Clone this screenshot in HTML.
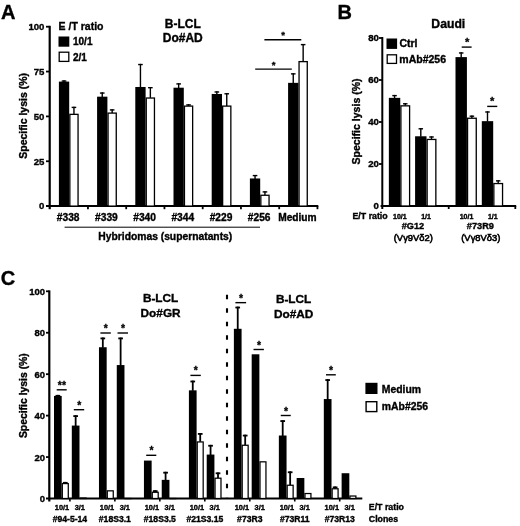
<!DOCTYPE html>
<html><head><meta charset="utf-8"><title>Figure</title>
<style>
html,body{margin:0;padding:0;background:#fff;}
svg{display:block;font-family:'Liberation Sans', Arial, Helvetica, sans-serif;}
text{fill:#000;stroke:#000;stroke-width:.36px;}
</style></head><body>
<svg width="520" height="526" viewBox="0 0 520 526" style="font-family:'Liberation Sans', Arial, Helvetica, sans-serif">
<defs><filter id="soft" x="0" y="0" width="520" height="526" filterUnits="userSpaceOnUse"><feGaussianBlur stdDeviation="0.38"/></filter></defs>
<rect width="520" height="526" fill="#fff"/>
<g filter="url(#soft)">
<rect width="520" height="526" fill="#fff"/>
<text x="0.90" y="19.20" font-size="20" text-anchor="start" font-weight="bold" >A</text>
<line x1="49.70" y1="25.80" x2="49.70" y2="209.20" stroke="#000" stroke-width="2.2" />
<line x1="46.00" y1="206.10" x2="318.30" y2="206.10" stroke="#000" stroke-width="2" />
<text x="44.40" y="209.40" font-size="9.6" text-anchor="end" font-weight="bold" >0</text>
<line x1="46.00" y1="161.25" x2="49.70" y2="161.25" stroke="#000" stroke-width="1.8" />
<text x="44.40" y="164.55" font-size="9.6" text-anchor="end" font-weight="bold" >25</text>
<line x1="46.00" y1="116.40" x2="49.70" y2="116.40" stroke="#000" stroke-width="1.8" />
<text x="44.40" y="119.70" font-size="9.6" text-anchor="end" font-weight="bold" >50</text>
<line x1="46.00" y1="71.55" x2="49.70" y2="71.55" stroke="#000" stroke-width="1.8" />
<text x="44.40" y="74.85" font-size="9.6" text-anchor="end" font-weight="bold" >75</text>
<line x1="46.00" y1="26.70" x2="49.70" y2="26.70" stroke="#000" stroke-width="1.8" />
<text x="44.40" y="30.00" font-size="9.6" text-anchor="end" font-weight="bold" >100</text>
<line x1="87.95" y1="206.10" x2="87.95" y2="209.20" stroke="#000" stroke-width="1.8" />
<line x1="126.20" y1="206.10" x2="126.20" y2="209.20" stroke="#000" stroke-width="1.8" />
<line x1="164.45" y1="206.10" x2="164.45" y2="209.20" stroke="#000" stroke-width="1.8" />
<line x1="202.70" y1="206.10" x2="202.70" y2="209.20" stroke="#000" stroke-width="1.8" />
<line x1="240.95" y1="206.10" x2="240.95" y2="209.20" stroke="#000" stroke-width="1.8" />
<line x1="279.20" y1="206.10" x2="279.20" y2="209.20" stroke="#000" stroke-width="1.8" />
<line x1="317.45" y1="206.10" x2="317.45" y2="209.20" stroke="#000" stroke-width="1.8" />
<text transform="translate(27.10,115.85) rotate(-90)" font-size="10.5" text-anchor="middle" font-weight="bold">Specific lysis (%)</text>
<text x="58.60" y="30.00" font-size="10.5" text-anchor="start" font-weight="bold" >E /T ratio</text>
<rect x="58.5" y="36.5" width="10.8" height="10.2" fill="#000"/>
<rect x="59.2" y="52.2" width="9.6" height="9.2" fill="#fff" stroke="#000" stroke-width="1.3"/>
<text x="73.00" y="45.40" font-size="10" text-anchor="start" font-weight="bold" >10/1</text>
<text x="73.00" y="60.60" font-size="10" text-anchor="start" font-weight="bold" >2/1</text>
<text x="182.80" y="27.90" font-size="12" text-anchor="middle" font-weight="bold" >B-LCL</text>
<text x="182.80" y="42.00" font-size="12" text-anchor="middle" font-weight="bold" >Do#AD</text>
<line x1="64.05" y1="80.34" x2="64.05" y2="82.10" stroke="#000" stroke-width="1.4" />
<line x1="61.75" y1="81.04" x2="66.35" y2="81.04" stroke="#000" stroke-width="1.4" />
<line x1="73.95" y1="106.71" x2="73.95" y2="114.21" stroke="#000" stroke-width="1.4" />
<line x1="71.65" y1="107.41" x2="76.25" y2="107.41" stroke="#000" stroke-width="1.4" />
<rect x="58.90" y="81.60" width="10.30" height="124.50" fill="#000"/>
<rect x="69.85" y="114.36" width="8.20" height="91.74" fill="#fff" stroke="#000" stroke-width="1.3"/>
<text x="68.20" y="220.80" font-size="10.2" text-anchor="middle" font-weight="bold" >#338</text>
<line x1="102.25" y1="92.36" x2="102.25" y2="97.17" stroke="#000" stroke-width="1.4" />
<line x1="99.95" y1="93.06" x2="104.55" y2="93.06" stroke="#000" stroke-width="1.4" />
<line x1="112.15" y1="109.22" x2="112.15" y2="112.95" stroke="#000" stroke-width="1.4" />
<line x1="109.85" y1="109.92" x2="114.45" y2="109.92" stroke="#000" stroke-width="1.4" />
<rect x="97.10" y="96.67" width="10.30" height="109.43" fill="#000"/>
<rect x="108.05" y="113.10" width="8.20" height="93.00" fill="#fff" stroke="#000" stroke-width="1.3"/>
<text x="106.40" y="220.80" font-size="10.2" text-anchor="middle" font-weight="bold" >#339</text>
<line x1="140.45" y1="63.84" x2="140.45" y2="87.48" stroke="#000" stroke-width="1.4" />
<line x1="138.15" y1="64.54" x2="142.75" y2="64.54" stroke="#000" stroke-width="1.4" />
<line x1="150.35" y1="86.98" x2="150.35" y2="97.88" stroke="#000" stroke-width="1.4" />
<line x1="148.05" y1="87.68" x2="152.65" y2="87.68" stroke="#000" stroke-width="1.4" />
<rect x="135.30" y="86.98" width="10.30" height="119.12" fill="#000"/>
<rect x="146.25" y="98.03" width="8.20" height="108.07" fill="#fff" stroke="#000" stroke-width="1.3"/>
<text x="144.60" y="220.80" font-size="10.2" text-anchor="middle" font-weight="bold" >#340</text>
<line x1="178.65" y1="83.21" x2="178.65" y2="88.20" stroke="#000" stroke-width="1.4" />
<line x1="176.35" y1="83.91" x2="180.95" y2="83.91" stroke="#000" stroke-width="1.4" />
<line x1="188.55" y1="104.20" x2="188.55" y2="105.96" stroke="#000" stroke-width="1.4" />
<line x1="186.25" y1="104.90" x2="190.85" y2="104.90" stroke="#000" stroke-width="1.4" />
<rect x="173.50" y="87.70" width="10.30" height="118.40" fill="#000"/>
<rect x="184.45" y="106.11" width="8.20" height="99.99" fill="#fff" stroke="#000" stroke-width="1.3"/>
<text x="182.80" y="220.80" font-size="10.2" text-anchor="middle" font-weight="bold" >#344</text>
<line x1="216.85" y1="91.28" x2="216.85" y2="94.47" stroke="#000" stroke-width="1.4" />
<line x1="214.55" y1="91.98" x2="219.15" y2="91.98" stroke="#000" stroke-width="1.4" />
<line x1="226.75" y1="93.08" x2="226.75" y2="105.96" stroke="#000" stroke-width="1.4" />
<line x1="224.45" y1="93.78" x2="229.05" y2="93.78" stroke="#000" stroke-width="1.4" />
<rect x="211.70" y="93.97" width="10.30" height="112.12" fill="#000"/>
<rect x="222.65" y="106.11" width="8.20" height="99.99" fill="#fff" stroke="#000" stroke-width="1.3"/>
<text x="221.00" y="220.80" font-size="10.2" text-anchor="middle" font-weight="bold" >#229</text>
<line x1="255.05" y1="174.88" x2="255.05" y2="178.97" stroke="#000" stroke-width="1.4" />
<line x1="252.75" y1="175.58" x2="257.35" y2="175.58" stroke="#000" stroke-width="1.4" />
<line x1="264.95" y1="191.21" x2="264.95" y2="195.12" stroke="#000" stroke-width="1.4" />
<line x1="262.65" y1="191.91" x2="267.25" y2="191.91" stroke="#000" stroke-width="1.4" />
<rect x="249.90" y="178.47" width="10.30" height="27.63" fill="#000"/>
<rect x="260.85" y="195.27" width="8.20" height="10.83" fill="#fff" stroke="#000" stroke-width="1.3"/>
<text x="259.20" y="220.80" font-size="10.2" text-anchor="middle" font-weight="bold" >#256</text>
<line x1="293.25" y1="73.16" x2="293.25" y2="83.35" stroke="#000" stroke-width="1.4" />
<line x1="290.95" y1="73.86" x2="295.55" y2="73.86" stroke="#000" stroke-width="1.4" />
<line x1="303.15" y1="43.92" x2="303.15" y2="61.47" stroke="#000" stroke-width="1.4" />
<line x1="300.85" y1="44.62" x2="305.45" y2="44.62" stroke="#000" stroke-width="1.4" />
<rect x="288.10" y="82.85" width="10.30" height="123.25" fill="#000"/>
<rect x="299.05" y="61.62" width="8.20" height="144.48" fill="#fff" stroke="#000" stroke-width="1.3"/>
<text x="297.40" y="220.80" font-size="10.2" text-anchor="middle" font-weight="bold" >Medium</text>
<line x1="64.60" y1="227.20" x2="260.00" y2="227.20" stroke="#000" stroke-width="1" />
<text x="165.30" y="240.00" font-size="10.3" text-anchor="middle" font-weight="bold" >Hybridomas (supernatants)</text>
<line x1="264.40" y1="39.70" x2="301.30" y2="39.70" stroke="#000" stroke-width="1.4" />
<text x="283.20" y="38.45" font-size="9.6" text-anchor="middle" font-weight="bold" style="stroke-width:.3px">*</text>
<line x1="255.20" y1="69.10" x2="291.80" y2="69.10" stroke="#000" stroke-width="1.4" />
<text x="273.60" y="67.75" font-size="9.6" text-anchor="middle" font-weight="bold" style="stroke-width:.3px">*</text>
<text x="337.60" y="19.10" font-size="20" text-anchor="start" font-weight="bold" >B</text>
<line x1="382.30" y1="37.00" x2="382.30" y2="209.00" stroke="#000" stroke-width="2" />
<line x1="380.60" y1="206.00" x2="516.20" y2="206.00" stroke="#000" stroke-width="2.1" />
<text x="378.90" y="209.40" font-size="9.6" text-anchor="end" font-weight="bold" >0</text>
<line x1="379.00" y1="164.00" x2="382.30" y2="164.00" stroke="#000" stroke-width="1.8" />
<text x="378.90" y="167.40" font-size="9.6" text-anchor="end" font-weight="bold" >20</text>
<line x1="379.00" y1="122.00" x2="382.30" y2="122.00" stroke="#000" stroke-width="1.8" />
<text x="378.90" y="125.40" font-size="9.6" text-anchor="end" font-weight="bold" >40</text>
<line x1="379.00" y1="80.00" x2="382.30" y2="80.00" stroke="#000" stroke-width="1.8" />
<text x="378.90" y="83.40" font-size="9.6" text-anchor="end" font-weight="bold" >60</text>
<line x1="379.00" y1="38.00" x2="382.30" y2="38.00" stroke="#000" stroke-width="1.8" />
<text x="378.90" y="41.40" font-size="9.6" text-anchor="end" font-weight="bold" >80</text>
<line x1="448.70" y1="206.00" x2="448.70" y2="209.00" stroke="#000" stroke-width="1.8" />
<line x1="515.30" y1="206.00" x2="515.30" y2="209.00" stroke="#000" stroke-width="1.8" />
<text transform="translate(359.60,121.50) rotate(-90)" font-size="10.55" text-anchor="middle" font-weight="bold">Specific lysis (%)</text>
<text x="448.30" y="28.20" font-size="12.2" text-anchor="middle" font-weight="bold" >Daudi</text>
<rect x="386.5" y="38.5" width="10.6" height="10.4" fill="#000"/>
<rect x="387.2" y="54.8" width="9.3" height="8.6" fill="#fff" stroke="#000" stroke-width="1.3"/>
<text x="399.40" y="47.20" font-size="10.5" text-anchor="start" font-weight="bold" >Ctrl</text>
<text x="399.30" y="62.80" font-size="10.5" text-anchor="start" font-weight="bold" >mAb#256</text>
<line x1="394.55" y1="94.91" x2="394.55" y2="98.35" stroke="#000" stroke-width="1.4" />
<line x1="392.30" y1="95.61" x2="396.80" y2="95.61" stroke="#000" stroke-width="1.4" />
<line x1="405.25" y1="103.10" x2="405.25" y2="105.70" stroke="#000" stroke-width="1.4" />
<line x1="403.00" y1="103.80" x2="407.50" y2="103.80" stroke="#000" stroke-width="1.4" />
<rect x="388.85" y="97.85" width="11.40" height="108.15" fill="#000"/>
<rect x="400.90" y="105.85" width="8.70" height="100.15" fill="#fff" stroke="#000" stroke-width="1.3"/>
<text x="399.85" y="218.50" font-size="7.0" text-anchor="middle" font-weight="bold" >10/1</text>
<line x1="420.80" y1="128.09" x2="420.80" y2="136.78" stroke="#000" stroke-width="1.4" />
<line x1="418.55" y1="128.79" x2="423.05" y2="128.79" stroke="#000" stroke-width="1.4" />
<line x1="431.50" y1="136.28" x2="431.50" y2="139.30" stroke="#000" stroke-width="1.4" />
<line x1="429.25" y1="136.98" x2="433.75" y2="136.98" stroke="#000" stroke-width="1.4" />
<rect x="415.10" y="136.28" width="11.40" height="69.72" fill="#000"/>
<rect x="427.15" y="139.45" width="8.70" height="66.55" fill="#fff" stroke="#000" stroke-width="1.3"/>
<text x="426.10" y="218.50" font-size="7.0" text-anchor="middle" font-weight="bold" >1/1</text>
<line x1="461.20" y1="52.28" x2="461.20" y2="57.61" stroke="#000" stroke-width="1.4" />
<line x1="458.95" y1="52.98" x2="463.45" y2="52.98" stroke="#000" stroke-width="1.4" />
<line x1="471.90" y1="115.49" x2="471.90" y2="118.09" stroke="#000" stroke-width="1.4" />
<line x1="469.65" y1="116.19" x2="474.15" y2="116.19" stroke="#000" stroke-width="1.4" />
<rect x="455.50" y="57.11" width="11.40" height="148.89" fill="#000"/>
<rect x="467.55" y="118.24" width="8.70" height="87.76" fill="#fff" stroke="#000" stroke-width="1.3"/>
<text x="466.50" y="218.50" font-size="7.0" text-anchor="middle" font-weight="bold" >10/1</text>
<line x1="487.50" y1="111.29" x2="487.50" y2="121.66" stroke="#000" stroke-width="1.4" />
<line x1="485.25" y1="111.99" x2="489.75" y2="111.99" stroke="#000" stroke-width="1.4" />
<line x1="498.20" y1="180.17" x2="498.20" y2="183.40" stroke="#000" stroke-width="1.4" />
<line x1="495.95" y1="180.87" x2="500.45" y2="180.87" stroke="#000" stroke-width="1.4" />
<rect x="481.80" y="121.16" width="11.40" height="84.84" fill="#000"/>
<rect x="493.85" y="183.55" width="8.70" height="22.45" fill="#fff" stroke="#000" stroke-width="1.3"/>
<text x="492.80" y="218.50" font-size="7.0" text-anchor="middle" font-weight="bold" >1/1</text>
<text x="352.50" y="218.50" font-size="8.8" text-anchor="start" font-weight="bold" >E/T ratio</text>
<text x="413.00" y="229.00" font-size="9.2" text-anchor="middle" font-weight="bold" >#G12</text>
<text x="413.30" y="240.80" font-size="9.4" text-anchor="middle" font-weight="normal" style="stroke-width:.6px">(Vγ9Vδ2)</text>
<text x="480.40" y="229.00" font-size="9.2" text-anchor="middle" font-weight="bold" >#73R9</text>
<text x="480.80" y="240.80" font-size="9.4" text-anchor="middle" font-weight="normal" style="stroke-width:.6px">(Vγ8Vδ3)</text>
<line x1="461.70" y1="47.10" x2="471.60" y2="47.10" stroke="#000" stroke-width="1.4" />
<text x="467.20" y="46.36" font-size="11.2" text-anchor="middle" font-weight="bold" style="stroke-width:.3px">*</text>
<line x1="487.20" y1="106.40" x2="497.30" y2="106.40" stroke="#000" stroke-width="1.4" />
<text x="492.20" y="105.36" font-size="11.2" text-anchor="middle" font-weight="bold" style="stroke-width:.3px">*</text>
<text x="0.80" y="285.00" font-size="20" text-anchor="start" font-weight="bold" >C</text>
<line x1="49.30" y1="290.40" x2="49.30" y2="501.50" stroke="#000" stroke-width="2.2" />
<line x1="46.00" y1="498.50" x2="362.30" y2="498.50" stroke="#000" stroke-width="2" />
<text x="45.00" y="502.00" font-size="9.5" text-anchor="end" font-weight="bold" >0</text>
<line x1="46.00" y1="457.06" x2="49.30" y2="457.06" stroke="#000" stroke-width="1.8" />
<text x="45.00" y="460.56" font-size="9.5" text-anchor="end" font-weight="bold" >20</text>
<line x1="46.00" y1="415.62" x2="49.30" y2="415.62" stroke="#000" stroke-width="1.8" />
<text x="45.00" y="419.12" font-size="9.5" text-anchor="end" font-weight="bold" >40</text>
<line x1="46.00" y1="374.18" x2="49.30" y2="374.18" stroke="#000" stroke-width="1.8" />
<text x="45.00" y="377.68" font-size="9.5" text-anchor="end" font-weight="bold" >60</text>
<line x1="46.00" y1="332.74" x2="49.30" y2="332.74" stroke="#000" stroke-width="1.8" />
<text x="45.00" y="336.24" font-size="9.5" text-anchor="end" font-weight="bold" >80</text>
<line x1="46.00" y1="291.30" x2="49.30" y2="291.30" stroke="#000" stroke-width="1.8" />
<text x="45.00" y="294.80" font-size="9.5" text-anchor="end" font-weight="bold" >100</text>
<text transform="translate(27.30,395.65) rotate(-90)" font-size="10.4" text-anchor="middle" font-weight="bold">Specific lysis (%)</text>
<text x="160.60" y="302.20" font-size="11.8" text-anchor="middle" font-weight="bold" >B-LCL</text>
<text x="160.60" y="317.00" font-size="11.8" text-anchor="middle" font-weight="bold" >Do#GR</text>
<text x="293.60" y="303.20" font-size="11.8" text-anchor="middle" font-weight="bold" >B-LCL</text>
<text x="293.60" y="317.50" font-size="11.8" text-anchor="middle" font-weight="bold" >Do#AD</text>
<line x1="227.00" y1="294.70" x2="227.00" y2="497.60" stroke="#000" stroke-width="2.1" stroke-dasharray="4.6 8.9"/>
<line x1="69.90" y1="498.50" x2="69.90" y2="501.50" stroke="#000" stroke-width="1.6" />
<line x1="57.85" y1="394.90" x2="57.85" y2="396.44" stroke="#000" stroke-width="1.8" />
<line x1="55.50" y1="395.80" x2="60.20" y2="395.80" stroke="#000" stroke-width="1.8" />
<line x1="65.30" y1="481.92" x2="65.30" y2="483.46" stroke="#000" stroke-width="1.8" />
<line x1="62.95" y1="482.82" x2="67.65" y2="482.82" stroke="#000" stroke-width="1.8" />
<rect x="54.00" y="395.94" width="7.70" height="102.56" fill="#000"/>
<rect x="62.33" y="483.58" width="5.95" height="14.92" fill="#fff" stroke="#000" stroke-width="1.25"/>
<text x="62.00" y="510.00" font-size="7.4" text-anchor="middle" font-weight="bold" >10/1</text>
<line x1="75.65" y1="415.21" x2="75.65" y2="426.07" stroke="#000" stroke-width="1.8" />
<line x1="73.30" y1="416.11" x2="78.00" y2="416.11" stroke="#000" stroke-width="1.8" />
<rect x="71.80" y="425.57" width="7.70" height="72.93" fill="#000"/>
<rect x="80.12" y="498.09" width="5.95" height="0.41" fill="#fff" stroke="#000" stroke-width="1.25"/>
<text x="79.80" y="510.00" font-size="7.4" text-anchor="middle" font-weight="bold" >3/1</text>
<text x="69.90" y="522.00" font-size="8.6" text-anchor="middle" font-weight="bold" >#94-5-14</text>
<line x1="114.87" y1="498.50" x2="114.87" y2="501.50" stroke="#000" stroke-width="1.6" />
<line x1="102.82" y1="337.51" x2="102.82" y2="347.74" stroke="#000" stroke-width="1.8" />
<line x1="100.47" y1="338.41" x2="105.17" y2="338.41" stroke="#000" stroke-width="1.8" />
<rect x="98.97" y="347.24" width="7.70" height="151.26" fill="#000"/>
<rect x="107.30" y="490.84" width="5.95" height="7.66" fill="#fff" stroke="#000" stroke-width="1.25"/>
<text x="106.97" y="510.00" font-size="7.4" text-anchor="middle" font-weight="bold" >10/1</text>
<line x1="120.62" y1="337.51" x2="120.62" y2="365.56" stroke="#000" stroke-width="1.8" />
<line x1="118.27" y1="338.41" x2="122.97" y2="338.41" stroke="#000" stroke-width="1.8" />
<rect x="116.77" y="365.06" width="7.70" height="133.44" fill="#000"/>
<rect x="125.09" y="498.50" width="5.95" height="0.10" fill="#fff" stroke="#000" stroke-width="1.25"/>
<text x="124.77" y="510.00" font-size="7.4" text-anchor="middle" font-weight="bold" >3/1</text>
<text x="114.87" y="522.00" font-size="8.6" text-anchor="middle" font-weight="bold" >#18S3.1</text>
<line x1="159.84" y1="498.50" x2="159.84" y2="501.50" stroke="#000" stroke-width="1.6" />
<line x1="155.24" y1="490.21" x2="155.24" y2="492.16" stroke="#000" stroke-width="1.8" />
<line x1="152.89" y1="491.11" x2="157.59" y2="491.11" stroke="#000" stroke-width="1.8" />
<rect x="143.94" y="460.58" width="7.70" height="37.92" fill="#000"/>
<rect x="152.26" y="492.29" width="5.95" height="6.21" fill="#fff" stroke="#000" stroke-width="1.25"/>
<text x="151.94" y="510.00" font-size="7.4" text-anchor="middle" font-weight="bold" >10/1</text>
<line x1="165.59" y1="471.77" x2="165.59" y2="480.35" stroke="#000" stroke-width="1.8" />
<line x1="163.24" y1="472.67" x2="167.94" y2="472.67" stroke="#000" stroke-width="1.8" />
<rect x="161.74" y="479.85" width="7.70" height="18.65" fill="#000"/>
<rect x="170.06" y="498.50" width="5.95" height="0.10" fill="#fff" stroke="#000" stroke-width="1.25"/>
<text x="169.74" y="510.00" font-size="7.4" text-anchor="middle" font-weight="bold" >3/1</text>
<text x="159.84" y="522.00" font-size="8.6" text-anchor="middle" font-weight="bold" >#18S3.5</text>
<line x1="204.81" y1="498.50" x2="204.81" y2="501.50" stroke="#000" stroke-width="1.6" />
<line x1="192.76" y1="380.60" x2="192.76" y2="390.84" stroke="#000" stroke-width="1.8" />
<line x1="190.41" y1="381.50" x2="195.11" y2="381.50" stroke="#000" stroke-width="1.8" />
<line x1="200.21" y1="433.02" x2="200.21" y2="441.81" stroke="#000" stroke-width="1.8" />
<line x1="197.86" y1="433.92" x2="202.56" y2="433.92" stroke="#000" stroke-width="1.8" />
<rect x="188.91" y="390.34" width="7.70" height="108.16" fill="#000"/>
<rect x="197.23" y="441.94" width="5.95" height="56.56" fill="#fff" stroke="#000" stroke-width="1.25"/>
<text x="196.91" y="510.00" font-size="7.4" text-anchor="middle" font-weight="bold" >10/1</text>
<line x1="210.56" y1="444.84" x2="210.56" y2="455.07" stroke="#000" stroke-width="1.8" />
<line x1="208.21" y1="445.74" x2="212.91" y2="445.74" stroke="#000" stroke-width="1.8" />
<line x1="218.01" y1="472.39" x2="218.01" y2="478.07" stroke="#000" stroke-width="1.8" />
<line x1="215.66" y1="473.29" x2="220.36" y2="473.29" stroke="#000" stroke-width="1.8" />
<rect x="206.71" y="454.57" width="7.70" height="43.93" fill="#000"/>
<rect x="215.03" y="478.20" width="5.95" height="20.30" fill="#fff" stroke="#000" stroke-width="1.25"/>
<text x="214.71" y="510.00" font-size="7.4" text-anchor="middle" font-weight="bold" >3/1</text>
<text x="204.81" y="522.00" font-size="8.6" text-anchor="middle" font-weight="bold" >#21S3.15</text>
<line x1="249.78" y1="498.50" x2="249.78" y2="501.50" stroke="#000" stroke-width="1.6" />
<line x1="237.73" y1="306.63" x2="237.73" y2="329.30" stroke="#000" stroke-width="1.8" />
<line x1="235.38" y1="307.53" x2="240.08" y2="307.53" stroke="#000" stroke-width="1.8" />
<line x1="245.18" y1="434.68" x2="245.18" y2="445.13" stroke="#000" stroke-width="1.8" />
<line x1="242.83" y1="435.58" x2="247.53" y2="435.58" stroke="#000" stroke-width="1.8" />
<rect x="233.88" y="328.80" width="7.70" height="169.70" fill="#000"/>
<rect x="242.20" y="445.25" width="5.95" height="53.25" fill="#fff" stroke="#000" stroke-width="1.25"/>
<text x="241.88" y="510.00" font-size="7.4" text-anchor="middle" font-weight="bold" >10/1</text>
<rect x="251.68" y="354.29" width="7.70" height="144.21" fill="#000"/>
<rect x="260.00" y="461.83" width="5.95" height="36.67" fill="#fff" stroke="#000" stroke-width="1.25"/>
<text x="259.68" y="510.00" font-size="7.4" text-anchor="middle" font-weight="bold" >3/1</text>
<text x="249.78" y="522.00" font-size="8.6" text-anchor="middle" font-weight="bold" >#73R3</text>
<line x1="294.75" y1="498.50" x2="294.75" y2="501.50" stroke="#000" stroke-width="1.6" />
<line x1="282.70" y1="420.18" x2="282.70" y2="436.01" stroke="#000" stroke-width="1.8" />
<line x1="280.35" y1="421.08" x2="285.05" y2="421.08" stroke="#000" stroke-width="1.8" />
<line x1="290.15" y1="471.36" x2="290.15" y2="485.12" stroke="#000" stroke-width="1.8" />
<line x1="287.80" y1="472.26" x2="292.50" y2="472.26" stroke="#000" stroke-width="1.8" />
<rect x="278.85" y="435.51" width="7.70" height="62.99" fill="#000"/>
<rect x="287.18" y="485.24" width="5.95" height="13.26" fill="#fff" stroke="#000" stroke-width="1.25"/>
<text x="286.85" y="510.00" font-size="7.4" text-anchor="middle" font-weight="bold" >10/1</text>
<rect x="296.65" y="477.99" width="7.70" height="20.51" fill="#000"/>
<rect x="304.98" y="493.53" width="5.95" height="4.97" fill="#fff" stroke="#000" stroke-width="1.25"/>
<text x="304.65" y="510.00" font-size="7.4" text-anchor="middle" font-weight="bold" >3/1</text>
<text x="294.75" y="522.00" font-size="8.6" text-anchor="middle" font-weight="bold" >#73R11</text>
<line x1="339.72" y1="498.50" x2="339.72" y2="501.50" stroke="#000" stroke-width="1.6" />
<line x1="327.67" y1="379.15" x2="327.67" y2="399.54" stroke="#000" stroke-width="1.8" />
<line x1="325.32" y1="380.05" x2="330.02" y2="380.05" stroke="#000" stroke-width="1.8" />
<line x1="335.12" y1="486.48" x2="335.12" y2="488.64" stroke="#000" stroke-width="1.8" />
<line x1="332.77" y1="487.38" x2="337.47" y2="487.38" stroke="#000" stroke-width="1.8" />
<rect x="323.82" y="399.04" width="7.70" height="99.46" fill="#000"/>
<rect x="332.14" y="488.76" width="5.95" height="9.74" fill="#fff" stroke="#000" stroke-width="1.25"/>
<text x="331.82" y="510.00" font-size="7.4" text-anchor="middle" font-weight="bold" >10/1</text>
<rect x="341.62" y="473.22" width="7.70" height="25.28" fill="#000"/>
<rect x="349.94" y="496.02" width="5.95" height="2.48" fill="#fff" stroke="#000" stroke-width="1.25"/>
<text x="349.62" y="510.00" font-size="7.4" text-anchor="middle" font-weight="bold" >3/1</text>
<text x="339.72" y="522.00" font-size="8.6" text-anchor="middle" font-weight="bold" >#73R13</text>
<text x="368.80" y="510.00" font-size="8.8" text-anchor="start" font-weight="bold" >E/T ratio</text>
<text x="368.80" y="522.00" font-size="8.8" text-anchor="start" font-weight="bold" >Clones</text>
<rect x="365.4" y="382.8" width="12.1" height="11.2" fill="#000"/>
<rect x="366.1" y="401.7" width="10.7" height="9.9" fill="#fff" stroke="#000" stroke-width="1.4"/>
<text x="381.80" y="392.60" font-size="10.4" text-anchor="start" font-weight="bold" >Medium</text>
<text x="381.80" y="410.40" font-size="10.4" text-anchor="start" font-weight="bold" >mAb#256</text>
<line x1="56.70" y1="389.80" x2="66.70" y2="389.80" stroke="#000" stroke-width="1.4" />
<text x="61.90" y="388.85" font-size="10.4" text-anchor="middle" font-weight="bold" style="stroke-width:.3px">**</text>
<line x1="73.80" y1="409.70" x2="84.20" y2="409.70" stroke="#000" stroke-width="1.4" />
<text x="79.20" y="408.75" font-size="10.4" text-anchor="middle" font-weight="bold" style="stroke-width:.3px">*</text>
<line x1="100.40" y1="333.00" x2="110.80" y2="333.00" stroke="#000" stroke-width="1.4" />
<text x="105.80" y="332.05" font-size="10.4" text-anchor="middle" font-weight="bold" style="stroke-width:.3px">*</text>
<line x1="117.50" y1="333.00" x2="128.00" y2="333.00" stroke="#000" stroke-width="1.4" />
<text x="122.95" y="332.05" font-size="10.4" text-anchor="middle" font-weight="bold" style="stroke-width:.3px">*</text>
<line x1="146.20" y1="455.30" x2="156.30" y2="455.30" stroke="#000" stroke-width="1.4" />
<text x="151.45" y="454.35" font-size="10.4" text-anchor="middle" font-weight="bold" style="stroke-width:.3px">*</text>
<line x1="190.40" y1="375.40" x2="200.80" y2="375.40" stroke="#000" stroke-width="1.4" />
<text x="195.80" y="374.45" font-size="10.4" text-anchor="middle" font-weight="bold" style="stroke-width:.3px">*</text>
<line x1="235.40" y1="302.65" x2="246.10" y2="302.65" stroke="#000" stroke-width="1.4" />
<text x="240.95" y="301.70" font-size="10.4" text-anchor="middle" font-weight="bold" style="stroke-width:.3px">*</text>
<line x1="253.50" y1="349.50" x2="263.90" y2="349.50" stroke="#000" stroke-width="1.4" />
<text x="258.90" y="348.55" font-size="10.4" text-anchor="middle" font-weight="bold" style="stroke-width:.3px">*</text>
<line x1="280.75" y1="415.50" x2="290.75" y2="415.50" stroke="#000" stroke-width="1.4" />
<text x="285.95" y="414.55" font-size="10.4" text-anchor="middle" font-weight="bold" style="stroke-width:.3px">*</text>
<line x1="326.00" y1="374.80" x2="335.80" y2="374.80" stroke="#000" stroke-width="1.4" />
<text x="331.10" y="373.85" font-size="10.4" text-anchor="middle" font-weight="bold" style="stroke-width:.3px">*</text>
</g>
</svg>
</body></html>
